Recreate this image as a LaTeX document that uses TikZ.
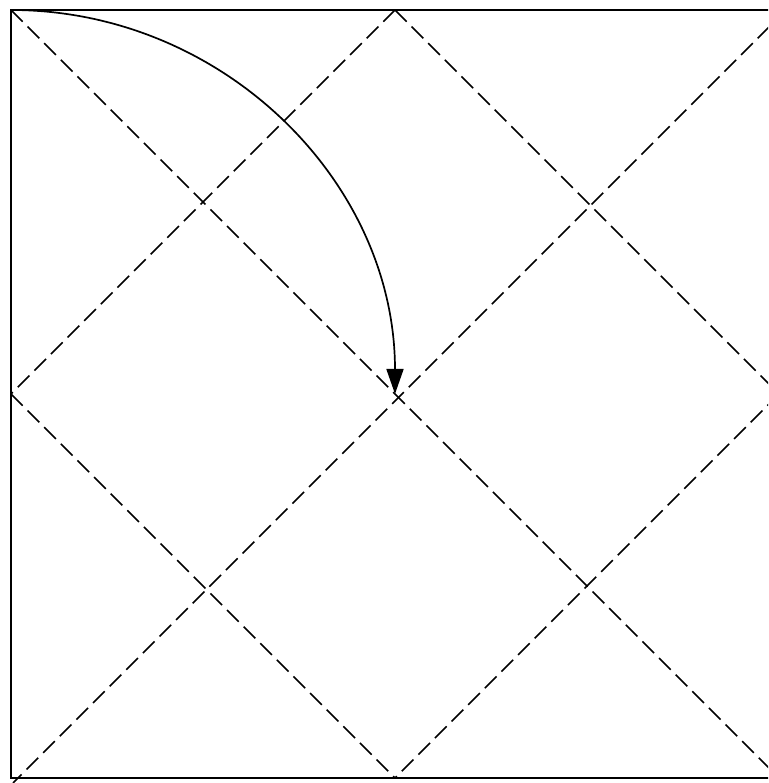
\documentclass[tikz,border=0pt]{standalone}
\usetikzlibrary{arrows.meta}
\begin{document}
\begin{tikzpicture}[x=0.5pt,y=0.5pt,
  frame/.style={line width=1pt},
  guide/.style={line width=0.8pt, dash pattern=on 8.25pt off 3.5pt},
  turn/.style={line width=0.85pt, -{Triangle[length=12.5pt,width=8.5pt]}}]
\useasboundingbox (0,0) rectangle (768,783);
\clip (0,0) rectangle (768,783);
\coordinate (TL) at (11,773);
\coordinate (TR) at (779,773);
\coordinate (BL) at (11,5);
\coordinate (BR) at (779,5);
\coordinate (C) at (395,389);
\coordinate (T) at (395,773);
\coordinate (B) at (395,5);
\coordinate (L) at (11,389);
\coordinate (R) at (779,389);
\coordinate (ADa) at (786,773);
\coordinate (ADb) at (13,0);
\draw[guide] (TL) -- (BR);
\draw[guide] (ADa) -- (ADb);
\draw[guide] (T) -- (L);
\draw[guide] (T) -- (R);
\draw[guide] (L) -- (B);
\draw[guide] (R) -- (B);
\draw[frame] (TL) rectangle (BR);
\draw[turn] (TL) arc[start angle=90, end angle=0, radius=384];
\end{tikzpicture}
\end{document}
